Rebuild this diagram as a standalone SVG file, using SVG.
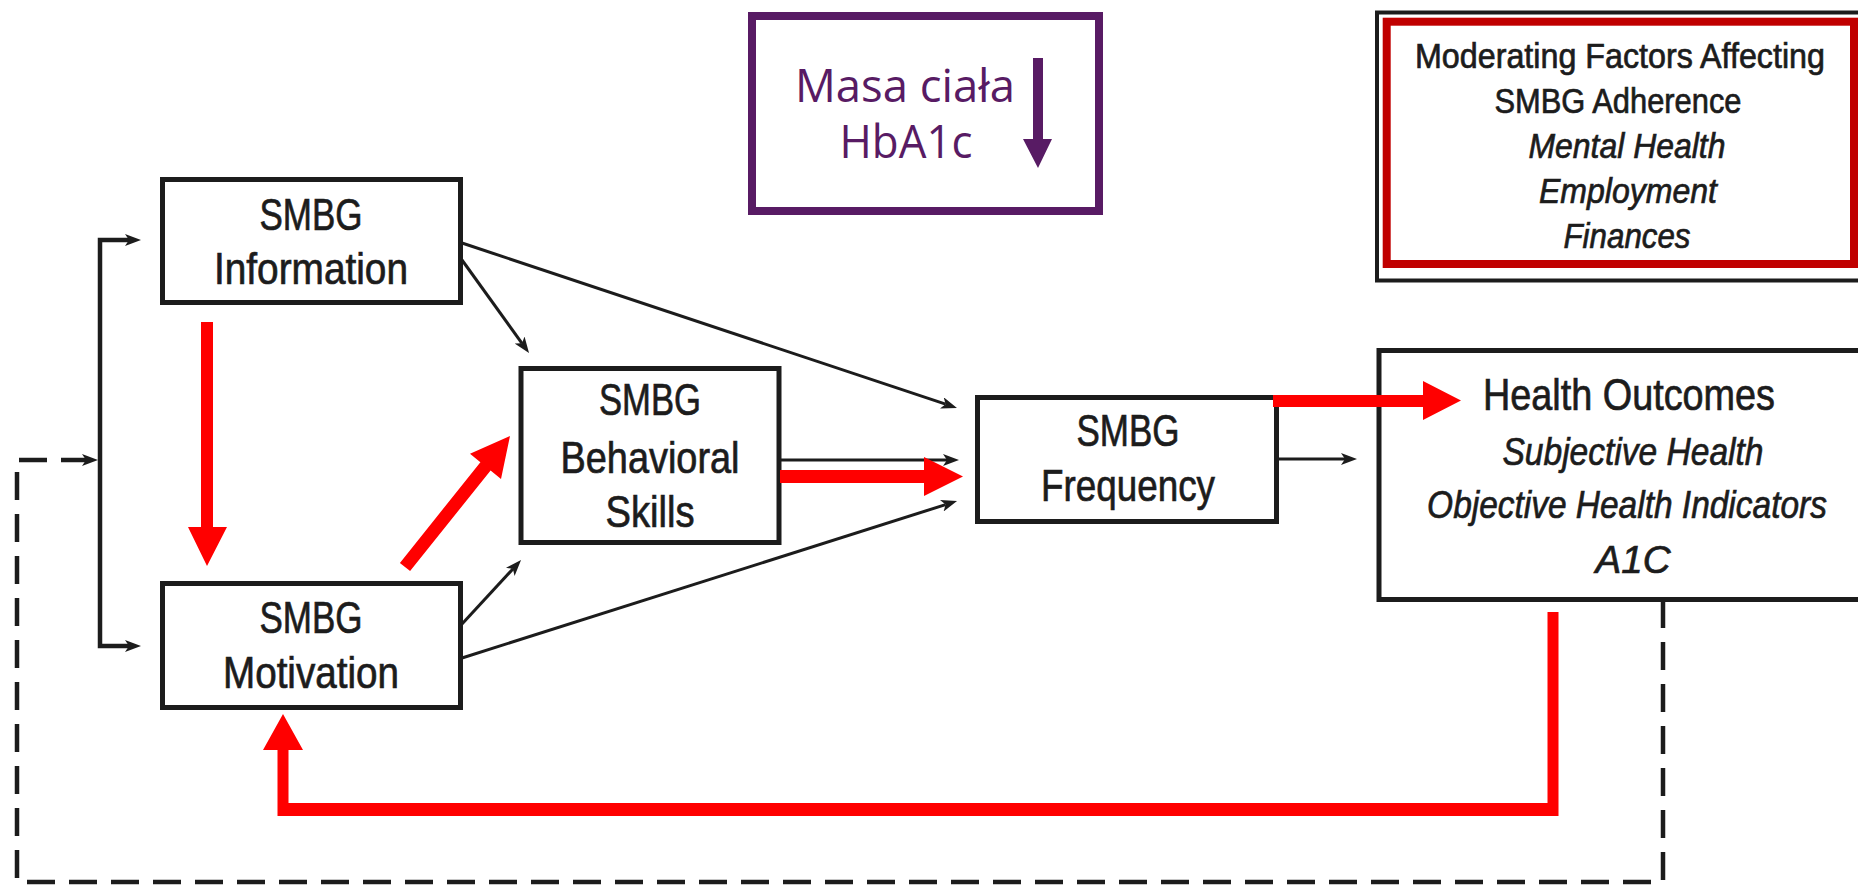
<svg xmlns="http://www.w3.org/2000/svg" width="1858" height="885" viewBox="0 0 1858 885">
<style>
.box{fill:#fff;stroke:#1c1c1c;stroke-width:5}
.edge{fill:none;stroke:#1c1c1c;stroke-width:5}
.t{font-family:"Liberation Sans",Arial,sans-serif;fill:#1c1c1c;stroke:#1c1c1c;stroke-width:0.7;text-anchor:middle}
.n{font-size:44px}
.s{font-size:35px}
.it{font-style:italic}
.con{fill:none;stroke:#1c1c1c;stroke-width:3}
.brk{fill:none;stroke:#1c1c1c;stroke-width:4.5}
.dash{fill:none;stroke:#1c1c1c;stroke-width:4.5;stroke-dasharray:28 14}
.red{fill:#ff0000}
.pur{font-family:"Open Sans","DejaVu Sans",sans-serif;font-size:45px;fill:#581b64;text-anchor:middle}
</style>
<defs>
<marker id="ah" viewBox="0 0 16 12" markerWidth="16" markerHeight="12" markerUnits="userSpaceOnUse" refX="4" refY="6" orient="auto">
<path d="M0,0 L16,6 L0,12 L4,6 z" fill="#1c1c1c"/>
</marker>
</defs>

<g id="node-masa">
<rect x="752" y="16" width="347" height="195" fill="#fff" stroke="#581b64" stroke-width="8"/>
<text class="pur" x="905" y="102" textLength="220" lengthAdjust="spacingAndGlyphs">Masa ciała</text>
<text class="pur" x="906" y="158" textLength="133" lengthAdjust="spacingAndGlyphs">HbA1c</text>
<polygon fill="#581b64" points="1033,58 1043,58 1043,139 1052,139 1038,168 1023,139 1033,139"/>
</g>

<g id="node-moderating">
<path class="edge" style="stroke-width:4" d="M1858,12.5 H1377 V280.5 H1858"/>
<rect x="1386.7" y="21.7" width="467.3" height="242.3" fill="#fff" stroke="#c00000" stroke-width="8"/>
<text class="t s" x="1620" y="68" textLength="410" lengthAdjust="spacingAndGlyphs">Moderating Factors Affecting</text>
<text class="t s" x="1618" y="113" textLength="247" lengthAdjust="spacingAndGlyphs">SMBG Adherence</text>
<text class="t s it" x="1627" y="158" textLength="197" lengthAdjust="spacingAndGlyphs">Mental Health</text>
<text class="t s it" x="1628" y="203" textLength="178" lengthAdjust="spacingAndGlyphs">Employment</text>
<text class="t s it" x="1627" y="248" textLength="127" lengthAdjust="spacingAndGlyphs">Finances</text>
</g>

<g id="node-information">
<rect class="box" x="162.5" y="179.5" width="298" height="123"/>
<text class="t n" x="311" y="230" textLength="103" lengthAdjust="spacingAndGlyphs">SMBG</text>
<text class="t n" x="311" y="284" textLength="194" lengthAdjust="spacingAndGlyphs">Information</text>
</g>

<g id="node-motivation">
<rect class="box" x="162.5" y="583.5" width="298" height="124"/>
<text class="t n" x="311" y="633" textLength="103" lengthAdjust="spacingAndGlyphs">SMBG</text>
<text class="t n" x="311" y="688" textLength="176" lengthAdjust="spacingAndGlyphs">Motivation</text>
</g>

<g id="node-behavioral">
<rect class="box" x="521" y="368.5" width="258" height="174"/>
<text class="t n" x="650" y="415" textLength="102" lengthAdjust="spacingAndGlyphs">SMBG</text>
<text class="t n" x="650" y="473" textLength="179" lengthAdjust="spacingAndGlyphs">Behavioral</text>
<text class="t n" x="650" y="527" textLength="89" lengthAdjust="spacingAndGlyphs">Skills</text>
</g>

<g id="node-frequency">
<rect class="box" x="977.5" y="397.5" width="299" height="124"/>
<text class="t n" x="1128" y="446" textLength="103" lengthAdjust="spacingAndGlyphs">SMBG</text>
<text class="t n" x="1128" y="501" textLength="174" lengthAdjust="spacingAndGlyphs">Frequency</text>
</g>

<g id="node-health">
<path class="edge" d="M1858,350.5 H1379 V599.5 H1858"/>
<text class="t n" x="1629" y="410" textLength="292" lengthAdjust="spacingAndGlyphs">Health Outcomes</text>
<text class="t it" style="font-size:39px" x="1633" y="465" textLength="261" lengthAdjust="spacingAndGlyphs">Subjective Health</text>
<text class="t it" style="font-size:39px" x="0" y="0" transform="translate(1627,518) scale(0.858,1)">Objective Health Indicators</text>
<text class="t it" style="font-size:39px" x="1633" y="573" textLength="75" lengthAdjust="spacingAndGlyphs">A1C</text>
</g>

<g id="connectors">
<path class="dash" d="M1663,600 V882 H17 V460 H86" marker-end="url(#ah)"/>
<path class="brk" d="M129,240 H100 V646 H129"/>
<line class="con" x1="128" y1="240" x2="129" y2="240" marker-end="url(#ah)"/>
<line class="con" x1="128" y1="646" x2="129" y2="646" marker-end="url(#ah)"/>
<line class="con" x1="462" y1="260" x2="522" y2="343.3" marker-end="url(#ah)"/>
<line class="con" x1="462" y1="243" x2="945.6" y2="404.2" marker-end="url(#ah)"/>
<line class="con" x1="780" y1="460" x2="947" y2="460" marker-end="url(#ah)"/>
<line class="con" x1="462" y1="624" x2="512.9" y2="568.9" marker-end="url(#ah)"/>
<line class="con" x1="462" y1="658" x2="945.6" y2="504.6" marker-end="url(#ah)"/>
<line class="con" x1="1279" y1="459" x2="1345" y2="459" marker-end="url(#ah)"/>
<polygon class="red" points="201,322 213,322 213,527 227,527 207,566 188,527 201,527"/>
<polygon class="red" points="399.9,562.9 480.4,462.2 470,453.7 510,436 501,478.9 490.6,470.4 410.1,571.1"/>
<polygon class="red" points="780,470 924,470 924,457 963,476.5 924,496 924,483 780,483"/>
<polygon class="red" points="1273,395 1423,395 1423,381 1461,400.5 1423,420 1423,407 1273,407"/>
<path class="red" d="M1547.5,612 H1558.5 V816 H277.5 V750 H263 L283,714 L303,750 H288.5 V803 H1547.5 Z"/>
</g>
</svg>
